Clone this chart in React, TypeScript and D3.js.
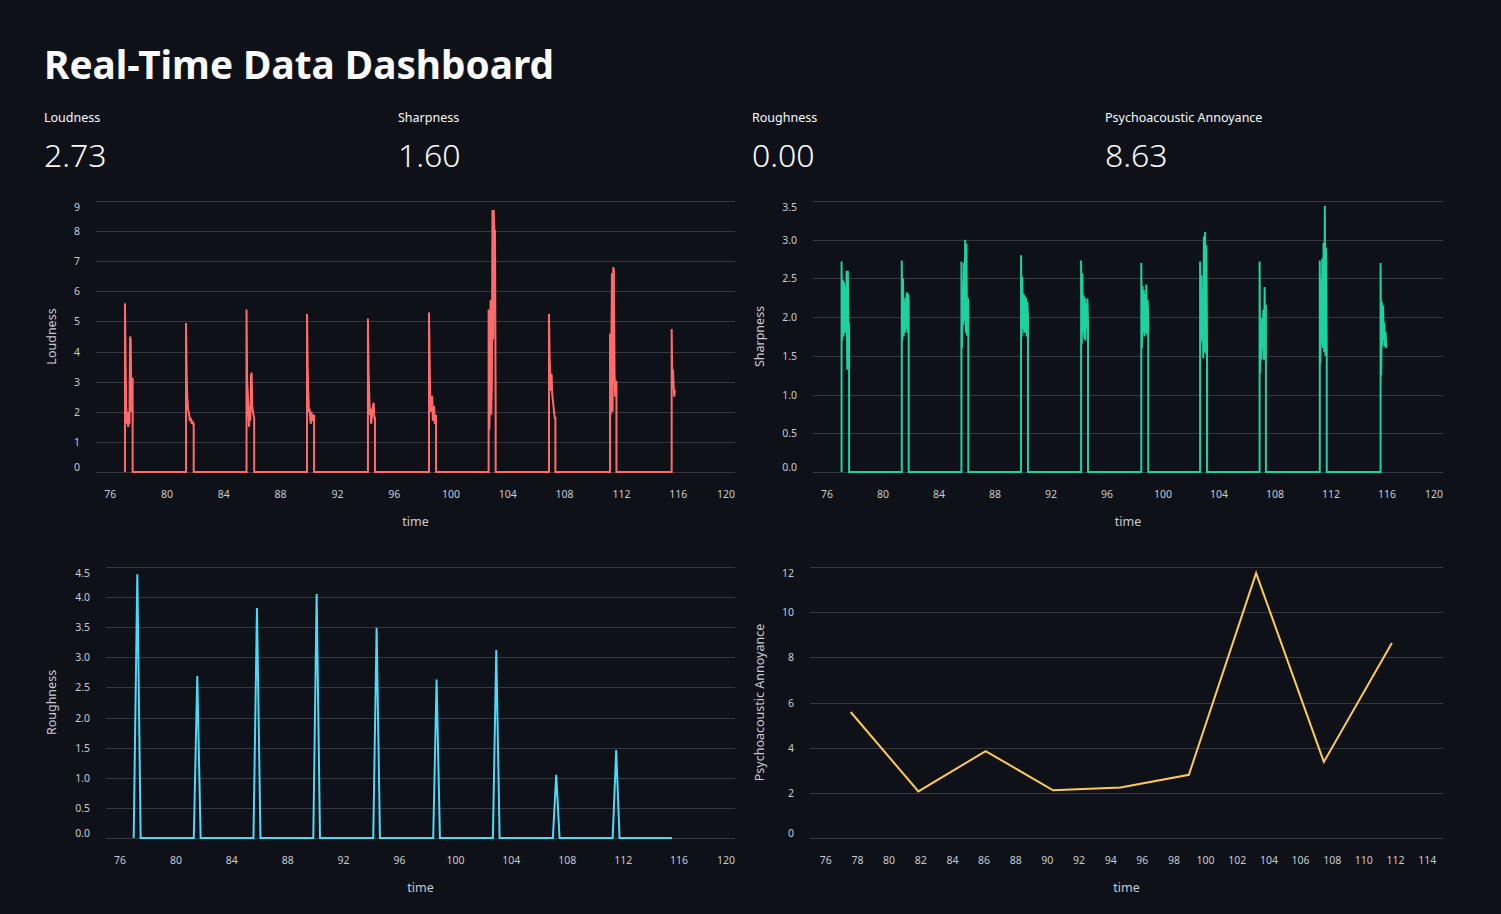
import React from 'react';
import * as d3 from 'd3';

const FONT = '"Source Sans Pro", "Noto Sans", "Open Sans", sans-serif';
const BG = '#0e1117';
const GRID = '#363842';
const LABEL = '#c8cbd1';

// sensor bursts: start time of each burst (s) and samples taken every SAMPLE_STEP
const SAMPLE_STEP = 0.045;
const burstStarts = [77.04, 81.34, 85.6, 89.86, 94.15, 98.45, 102.65, 106.9, 111.2, 115.54];

const loudnessBursts = [
    [5.6, 3.6, 2.2, 1.6, 2.0, 1.5, 1.9, 1.6, 4.5, 4.4, 2.0, 3.1, 3.1],
    [4.95, 3.2, 2.5, 2.1, 2.0, 1.9, 1.7, 1.8, 1.7, 1.6, 1.7, 1.6, 1.6],
    [5.4, 3.0, 2.6, 2.0, 1.5, 2.2, 1.7, 3.2, 3.3, 2.2, 2.0, 1.9, 1.8],
    [5.25, 3.6, 2.6, 2.0, 2.1, 1.8, 1.6, 2.0, 1.7, 1.9, 1.8, 1.9],
    [5.1, 3.4, 2.6, 1.9, 2.1, 1.6, 1.8, 2.1, 2.2, 2.3, 1.8, 1.8],
    [5.3, 3.7, 2.5, 2.0, 2.5, 2.5, 1.7, 1.9, 2.2, 1.6, 1.7, 1.9],
    [5.4, 1.4, 2.2, 5.7, 1.9, 2.9, 8.7, 4.4, 8.7, 8.0, 8.0, 2.0],
    [5.25, 3.8, 3.3, 2.7, 3.25, 2.6, 2.4, 2.2, 2.0, 1.8, 1.8],
    [4.6, 1.9, 4.0, 6.6, 2.0, 6.8, 6.7, 3.3, 2.5, 3.0, 3.0],
    [4.75, 3.0, 3.4, 2.9, 2.5, 2.73],
];

const sharpnessBursts = [
    [2.72, 1.7, 2.48, 1.75, 2.45, 1.8, 2.4, 1.8, 2.6, 1.32, 2.6, 1.8, 1.92],
    [2.73, 1.7, 2.5, 1.75, 2.2, 1.8, 2.25, 1.85, 2.32, 1.8, 2.3, 2.2],
    [2.72, 1.6, 2.35, 1.9, 2.7, 1.95, 3.0, 1.8, 2.95, 1.76, 2.25, 2.2],
    [2.8, 1.75, 2.52, 1.85, 2.3, 1.8, 2.28, 1.8, 2.25, 1.75, 2.2, 2.0],
    [2.73, 1.65, 2.56, 1.8, 2.28, 1.72, 2.25, 1.7, 2.18, 1.85, 2.24, 1.9],
    [2.7, 1.6, 2.4, 1.8, 2.35, 1.75, 2.3, 1.8, 2.42, 1.78, 2.22, 2.0],
    [2.72, 1.67, 2.54, 1.7, 2.37, 1.47, 3.04, 1.55, 3.1, 1.53, 2.93, 1.6],
    [2.72, 1.28, 1.92, 1.45, 1.99, 1.6, 2.1, 1.45, 2.39, 1.65, 2.16],
    [2.73, 1.4, 2.5, 1.65, 2.76, 1.6, 2.96, 1.55, 3.44, 1.5, 2.9, 1.55],
    [2.7, 1.25, 2.2, 1.62, 2.15, 1.7, 1.93, 1.62, 1.81, 1.6],
];

const roughnessTime = [
    76.98, 77.24, 77.48, 81.28, 81.53, 81.77, 85.55, 85.8, 86.05, 89.83, 90.07, 90.31,
    94.12, 94.36, 94.6, 98.41, 98.65, 98.89, 102.68, 102.92, 103.16, 106.97, 107.21, 107.45,
    111.25, 111.5, 111.74, 115.5,
];
const roughnessValues = [
    0, 4.38, 0, 0, 2.69, 0, 0, 3.82, 0, 0, 4.05, 0,
    0, 3.49, 0, 0, 2.63, 0, 0, 3.12, 0, 0, 1.05, 0,
    0, 1.46, 0, 0,
];

const annoyanceTime = [77.57, 81.85, 86.1, 90.36, 94.62, 98.94, 103.19, 107.47, 111.77];
const annoyanceValues = [5.58, 2.06, 3.85, 2.11, 2.24, 2.8, 11.73, 3.37, 8.63];

const timeTicks = d3.range(76, 121, 4);
const annoyanceTimeTicks = d3.range(76, 115, 2);
const loudnessTicks = d3.range(0, 10, 1);
const sharpnessTicks = d3.range(0, 3.51, 0.5);
const roughnessTicks = d3.range(0, 4.51, 0.5);
const annoyanceTicks = d3.range(0, 13, 2);

type Pt = [number, number];

function burstSeries(starts: number[], bursts: number[][]): Pt[] {
    const pts: Pt[] = [];
    bursts.forEach((vals, i) => {
        const t0 = starts[i];
        pts.push([t0, 0]);
        vals.forEach((v, j) => pts.push([t0 + j * SAMPLE_STEP, v]));
        if (i < bursts.length - 1) pts.push([t0 + (vals.length - 1) * SAMPLE_STEP, 0]);
    });
    return pts;
}

const loudness = burstSeries(burstStarts, loudnessBursts);
const sharpness = burstSeries(burstStarts, sharpnessBursts);
const roughness: Pt[] = roughnessTime.map((t, i) => [t, roughnessValues[i]]);
const annoyance: Pt[] = annoyanceTime.map((t, i) => [t, annoyanceValues[i]]);

const last = (s: Pt[]) => s[s.length - 1][1].toFixed(2);

const metrics = [
    { label: 'Loudness', value: last(loudness) },
    { label: 'Sharpness', value: last(sharpness) },
    { label: 'Roughness', value: last(roughness) },
    { label: 'Psychoacoustic Annoyance', value: last(annoyance) },
];

interface ChartProps {
    left: number; right: number; top: number; bottom: number;
    titleX: number;
    xDomain: [number, number]; xTicks: number[];
    yDomain: [number, number]; yTicks: number[]; yFormat: (v: number) => string;
    yTitle: string; color: string; data: Pt[];
}

function LineChart(p: ChartProps) {
    const x = d3.scaleLinear().domain(p.xDomain).range([p.left, p.right]);
    const y = d3.scaleLinear().domain(p.yDomain).range([p.bottom, p.top]);
    const line = d3.line<Pt>().x(d => x(d[0])).y(d => y(d[1]));
    const midY = (p.top + p.bottom) / 2;

    return (
        <g fontFamily={FONT}>
            {p.yTicks.map((t, i) => {
                const yy = Math.round(y(t)) + 0.5;
                const first = i === 0;
                const lastT = i === p.yTicks.length - 1;
                const dy = first ? -1.5 : lastT ? 9 : 3.7;
                return (
                    <g key={'y' + t}>
                        <line x1={p.left} x2={p.right} y1={yy} y2={yy} stroke={GRID} strokeWidth={1} />
                        <text x={p.left - 16} y={yy + dy} textAnchor="end" fontSize={10.5} fill={LABEL}>
                            {p.yFormat(t)}
                        </text>
                    </g>
                );
            })}
            {p.xTicks.map(t => {
                const atEnd = Math.abs(x(t) - p.right) < 1;
                return (
                    <text key={'x' + t} x={x(t)} y={p.bottom + 26} fontSize={10.5} fill={LABEL}
                        textAnchor={atEnd ? 'end' : 'middle'}>
                        {t}
                    </text>
                );
            })}
            <text x={(p.left + p.right) / 2} y={p.bottom + 54} textAnchor="middle" fontSize={12.5} fill={LABEL}>
                time
            </text>
            <text transform={`translate(${p.titleX},${midY}) rotate(-90)`} textAnchor="middle"
                dy="0.35em" fontSize={12.5} fill={LABEL}>
                {p.yTitle}
            </text>
            <path d={line(p.data) || ''} fill="none" stroke={p.color} strokeWidth={2} />
        </g>
    );
}

export default function App() {
    const metricX = [44, 398, 752, 1105];
    return (
        <div style={{ position: 'fixed', left: 0, top: 0, width: 1501, height: 914, background: BG }}>
            <svg width={1501} height={914} style={{ display: 'block' }}>
                <rect width={1501} height={914} fill={BG} />
                <text x={44} y={79} fontFamily={FONT} fontWeight={700} fontSize={40} fill="#fafafa"
                    textLength={510} lengthAdjust="spacingAndGlyphs">
                    Real-Time Data Dashboard
                </text>
                {metrics.map((m, i) => (
                    <g key={m.label} fontFamily={FONT}>
                        <text x={metricX[i]} y={122} fontSize={12.5} fill="#fafafa">{m.label}</text>
                        <text x={metricX[i]} y={167} fontSize={32} fontWeight={300} fill="#fafafa">{m.value}</text>
                    </g>
                ))}
                <LineChart left={96} right={735} top={201} bottom={472} titleX={52}
                    xDomain={[75, 120]} xTicks={timeTicks}
                    yDomain={[0, 9]} yTicks={loudnessTicks} yFormat={d3.format('d')}
                    yTitle="Loudness" color="#ff6b6b" data={loudness} />
                <LineChart left={813} right={1443} top={201} bottom={472} titleX={760}
                    xDomain={[75, 120]} xTicks={timeTicks}
                    yDomain={[0, 3.5]} yTicks={sharpnessTicks} yFormat={d3.format('.1f')}
                    yTitle="Sharpness" color="#1dd1a1" data={sharpness} />
                <LineChart left={106} right={735} top={567} bottom={838} titleX={52}
                    xDomain={[75, 120]} xTicks={timeTicks}
                    yDomain={[0, 4.5]} yTicks={roughnessTicks} yFormat={d3.format('.1f')}
                    yTitle="Roughness" color="#48dbfb" data={roughness} />
                <LineChart left={810} right={1443} top={567} bottom={838} titleX={760}
                    xDomain={[75, 115]} xTicks={annoyanceTimeTicks}
                    yDomain={[0, 12]} yTicks={annoyanceTicks} yFormat={d3.format('d')}
                    yTitle="Psychoacoustic Annoyance" color="#feca57" data={annoyance} />
            </svg>
        </div>
    );
}
